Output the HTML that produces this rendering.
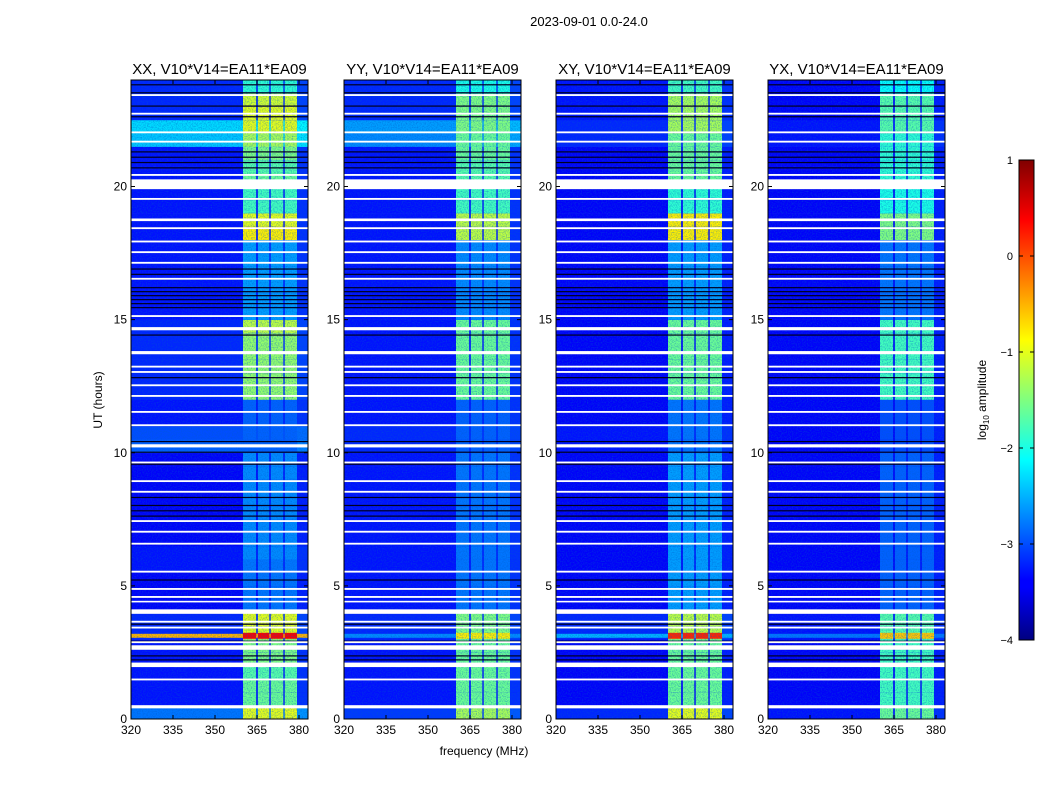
<!DOCTYPE html>
<html><head><meta charset="utf-8"><style>
html,body{margin:0;padding:0;background:#fff;}
svg{display:block;font-family:"Liberation Sans",sans-serif;}
</style></head><body>
<svg id="fig" width="1050" height="800" viewBox="0 0 1050 800">
<defs>
<linearGradient id="jet" x1="0" y1="1" x2="0" y2="0">
<stop offset="0" stop-color="#000080"/><stop offset="0.11" stop-color="#0000ff"/>
<stop offset="0.125" stop-color="#0000ff"/><stop offset="0.375" stop-color="#00ffff"/>
<stop offset="0.625" stop-color="#ffff00"/><stop offset="0.875" stop-color="#ff0000"/>
<stop offset="1" stop-color="#800000"/>
</linearGradient>
<filter id="grain" x="0" y="0" width="100%" height="100%"><feTurbulence type="fractalNoise" baseFrequency="0.8" numOctaves="2" seed="3"/><feColorMatrix values="0 0 0 0 0  0 0 0 0 0.1  0 0 0 0 0.6  0 0 0 1.2 -0.5"/></filter>
</defs>
<text x="589" y="26" font-size="13" text-anchor="middle">2023-09-01 0.0-24.0</text>
<text x="484" y="755" font-size="12" text-anchor="middle">frequency (MHz)</text>
<text transform="translate(102,400) rotate(-90)" font-size="12" text-anchor="middle">UT (hours)</text>
<g id="panels"></g>
<g id="cbar"></g>
</svg>
<script>
const panelTitles = ["XX, V10*V14=EA11*EA09","YY, V10*V14=EA11*EA09","XY, V10*V14=EA11*EA09","YX, V10*V14=EA11*EA09"];
const xTicks = [320,335,350,365,380];
const yTicks = [0,5,10,15,20];
const cbarTicks = [-4,-3,-2,-1,0,1];
const bandCols = [[360,364.7],[365.3,369.4],[369.9,374.4],[374.9,379.3]];
const bandXX = [-1.0,-1.6,-1.6,-1.7,-1.5,-1.5,-1.0,-1.0,-2.8,-2.8,-2.8,-2.8,-2.7,-2.7,-2.7,-2.7,-2.7,-2.7,-2.7,-2.7,-2.9,-2.9,-2.9,-2.9,-1.4,-1.4,-1.4,-1.4,-1.4,-1.2,-2.6,-2.6,-2.6,-2.6,-2.6,-2.6,-0.8,-1.0,-1.8,-1.8,-1.6,-1.7,-1.5,-1.3,-1.0,-1.0,-1.1,-1.9];
const bandYY = [-1.3,-1.6,-1.6,-1.6,-1.6,-1.6,-1.5,-1.5,-2.8,-2.8,-2.8,-2.8,-2.8,-2.8,-2.8,-2.8,-2.8,-2.8,-2.8,-2.8,-2.9,-2.9,-2.9,-2.9,-1.6,-1.6,-1.6,-1.6,-1.6,-1.6,-2.7,-2.7,-2.7,-2.7,-2.7,-2.7,-1.2,-1.2,-1.8,-1.8,-1.7,-1.7,-1.6,-1.6,-1.5,-1.5,-1.5,-2.0];
const bandXY = [-1.0,-1.6,-1.6,-1.6,-1.6,-1.6,-1.2,-1.2,-2.6,-2.6,-2.6,-2.6,-2.6,-2.6,-2.6,-2.6,-2.6,-2.6,-2.6,-2.6,-2.8,-2.8,-2.8,-2.8,-1.6,-1.6,-1.6,-1.6,-1.6,-1.6,-2.6,-2.6,-2.6,-2.6,-2.6,-2.6,-0.8,-0.8,-1.9,-1.9,-1.6,-1.6,-1.6,-1.6,-1.3,-1.3,-1.3,-1.8];
const bandYX = [-1.6,-1.8,-1.8,-1.8,-1.8,-1.8,-1.7,-1.7,-2.9,-2.9,-2.9,-2.9,-2.9,-2.9,-2.9,-2.9,-2.9,-2.9,-2.9,-2.9,-3.0,-3.0,-3.0,-3.0,-1.8,-1.8,-1.8,-1.8,-1.8,-1.8,-2.8,-2.8,-2.8,-2.8,-2.8,-2.8,-1.5,-1.5,-2.0,-2.0,-1.9,-1.9,-1.9,-1.9,-1.7,-1.7,-1.7,-2.1];
const bgXX = [-2.8,-3.3,-3.3,-3.3,-3.3,-3.3,-3.2,-3.2,-3.4,-3.4,-3.4,-3.3,-3.3,-3.4,-3.4,-3.4,-3.4,-3.4,-3.4,-3.4,-2.9,-3.0,-3.3,-3.3,-3.2,-3.2,-3.2,-3.2,-3.2,-3.2,-3.3,-3.3,-3.3,-3.3,-3.3,-3.3,-3.3,-3.3,-3.3,-3.3,-3.3,-3.3,-3.3,-2.4,-2.3,-3.2,-3.2,-3.2];
const bgYY = [-3.1,-3.3,-3.3,-3.3,-3.3,-3.3,-3.2,-3.2,-3.3,-3.3,-3.3,-3.3,-3.3,-3.3,-3.3,-3.3,-3.3,-3.3,-3.3,-3.3,-3.2,-3.2,-3.3,-3.3,-3.3,-3.3,-3.3,-3.3,-3.3,-3.3,-3.3,-3.3,-3.3,-3.3,-3.3,-3.3,-3.3,-3.3,-3.3,-3.3,-3.3,-3.3,-3.3,-2.7,-2.6,-3.2,-3.2,-3.2];
const bgXY = [-3.2,-3.4,-3.4,-3.4,-3.4,-3.4,-3.2,-3.2,-3.4,-3.4,-3.4,-3.4,-3.4,-3.4,-3.4,-3.4,-3.4,-3.4,-3.4,-3.4,-3.3,-3.3,-3.4,-3.4,-3.4,-3.4,-3.4,-3.4,-3.4,-3.4,-3.4,-3.4,-3.4,-3.4,-3.4,-3.4,-3.4,-3.4,-3.4,-3.4,-3.4,-3.4,-3.4,-3.2,-3.2,-3.3,-3.3,-3.3];
const bgYX = [-3.3,-3.4,-3.4,-3.4,-3.4,-3.4,-3.3,-3.3,-3.4,-3.4,-3.4,-3.4,-3.4,-3.4,-3.4,-3.4,-3.4,-3.4,-3.4,-3.4,-3.4,-3.4,-3.4,-3.4,-3.4,-3.4,-3.4,-3.4,-3.4,-3.4,-3.4,-3.4,-3.4,-3.4,-3.4,-3.4,-3.4,-3.4,-3.4,-3.4,-3.4,-3.4,-3.4,-3.3,-3.3,-3.4,-3.4,-3.4];
const eventBand = [0.4,-0.8,0.2,-0.6];
const eventBg = [-0.5,-2.7,-2.5,-2.8];
const eventSpan = [3.05,3.2];
const flagged = [[0.40,0.50],[1.45,1.5],[1.95,2.1],[2.6,2.75],[2.85,2.9],[3.4,3.45],[3.62,3.67],[3.95,4.1],[4.38,4.42],[4.55,4.6],[4.85,4.9],[5.5,5.55],[6.55,6.6],[7.0,7.05],[7.4,7.45],[8.5,8.55],[8.9,8.95],[9.6,9.65],[10.2,10.3],[11.0,11.05],[11.5,11.55],[12.1,12.15],[12.5,12.55],[13.0,13.05],[13.2,13.25],[13.7,13.8],[14.6,14.7],[15.1,15.15],[16.5,16.55],[17.1,17.15],[17.5,17.55],[17.9,17.95],[18.4,18.45],[18.7,18.78],[19.5,19.55],[19.9,20.25],[20.4,20.45],[21.65,21.7],[22.0,22.05],[22.7,22.75],[23.4,23.45]];
const darkLines = [2.22,2.37,2.92,3.56,5.22,7.62,7.82,8.02,8.32,9.57,10.02,10.42,12.82,14.42,15.45,15.6,15.75,15.9,16.05,16.2,16.7,16.9,20.7,20.9,21.1,21.3,22.62,23.02,23.52,23.82];

const panelX = [131,344,556,768];
const PW=177, PT=80, PB=719;
const bands=[bandXX,bandYY,bandXY,bandYX], bgs=[bgXX,bgYY,bgXY,bgYX];
const NS='http://www.w3.org/2000/svg';
function jet(v){let t=(v+4)/5;t=Math.max(0,Math.min(1,t));
 const r=Math.max(0,Math.min(1,1.5-Math.abs(4*t-3))),g=Math.max(0,Math.min(1,1.5-Math.abs(4*t-2))),b=Math.max(0,Math.min(1,1.5-Math.abs(4*t-1)));
 return `rgb(${Math.round(r*255)},${Math.round(g*255)},${Math.round(b*255)})`;}
function mk(tag,at,parent){const e=document.createElementNS(NS,tag);for(const k in at)e.setAttribute(k,at[k]);parent.appendChild(e);return e;}
const yS=h=>PT+(24-h)*(PB-PT)/24;
const root=document.getElementById('panels');
panelX.forEach((x0,p)=>{
 const xS=f=>x0+(f-320)*2.8;
 const g=mk('g',{},root);
 
 
 const hm=mk('g',{},g);
 
 
 const band=bands[p], bg=bgs[p];
 for(let i=0;i<48;i++){
  const y1=yS((i+1)/2), y2=yS(i/2), hgt=y2-y1+0.3;
  const r=mk('rect',{x:x0,y:y1,width:PW,height:hgt,fill:jet(bg[i])},hm);
  
  
  bandCols.forEach(c=>{
   const rc=mk('rect',{x:xS(c[0]),y:y1,width:xS(c[1])-xS(c[0]),height:hgt,fill:jet(band[i])},hm);
   
   
  });
  const rr=mk('rect',{x:xS(bandCols[3][1]),y:y1,width:xS(383.2)-xS(bandCols[3][1]),height:hgt,fill:jet(bg[i]+0.15)},hm);
  
  
 }
 const ey1=yS(eventSpan[1]), eh=yS(eventSpan[0])-ey1;
 const ev=mk('rect',{x:x0,y:ey1,width:PW,height:eh,fill:jet(eventBg[p])},hm);
 
 
 bandCols.forEach(c=>{const e=mk('rect',{x:xS(c[0]),y:ey1-1,width:xS(c[1])-xS(c[0]),height:eh+2,fill:jet(eventBand[p])},hm);
  
  });
 mk('rect',{x:x0,y:PT,width:PW,height:PB-PT,filter:'url(#grain)'},hm);
 darkLines.forEach(h=>{const l=mk('rect',{x:x0,y:yS(h)-0.6,width:PW,height:1.2,fill:'#000020'},hm);
  
  });
 flagged.forEach(f=>{const y1=yS(f[1]);const r=mk('rect',{x:x0,y:y1-0.5,width:PW,height:Math.max(1.6,yS(f[0])-y1+0.5),fill:'#fff'},hm);
  
  });
 const fr=mk('rect',{x:x0,y:PT,width:PW,height:PB-PT,fill:'none',stroke:'#000','stroke-width':1},g);
 
 
 const t=mk('text',{x:x0+PW/2,y:PT-6,'font-size':15,'text-anchor':'middle'},g);t.textContent=panelTitles[p];
 
 
 xTicks.forEach(v=>{const x=xS(v);
  mk('line',{x1:x,x2:x,y1:PB,y2:PB-4,stroke:'#000'},g);mk('line',{x1:x,x2:x,y1:PT,y2:PT+4,stroke:'#000'},g);
  const tx=mk('text',{x:x,y:PB+15,'font-size':12,'text-anchor':'middle'},g);tx.textContent=v;
  
  });
 yTicks.forEach(v=>{const y=yS(v);
  mk('line',{x1:x0,x2:x0+4,y1:y,y2:y,stroke:'#000'},g);mk('line',{x1:x0+PW,x2:x0+PW-4,y1:y,y2:y,stroke:'#000'},g);
  const ty=mk('text',{x:x0-4,y:y+4,'font-size':12,'text-anchor':'end'},g);ty.textContent=v;
  
  });
});
const cb=document.getElementById('cbar');
const CX=1019,CW=15,CT=160,CB=640;
const cS=v=>CB-(v+4)*(CB-CT)/5;
const cr=mk('rect',{x:CX,y:CT,width:CW,height:CB-CT,fill:'url(#jet)',stroke:'#000','stroke-width':1},cb);


cbarTicks.forEach(v=>{const y=cS(v);
 mk('line',{x1:CX,x2:CX+4,y1:y,y2:y,stroke:'#000'},cb);mk('line',{x1:CX+CW,x2:CX+CW-4,y1:y,y2:y,stroke:'#000'},cb);
 const t=mk('text',{x:CX-6,y:y+4,'font-size':11,'text-anchor':'end'},cb);t.textContent=(v<0?'\u2212'+(-v):v);
 
 });
const lab=mk('text',{transform:'translate(986,400) rotate(-90)','font-size':12,'text-anchor':'middle'},cb);
lab.innerHTML='log<tspan font-size="8" dy="3">10</tspan><tspan dy="-3"> amplitude</tspan>';


</script>
</body></html>
